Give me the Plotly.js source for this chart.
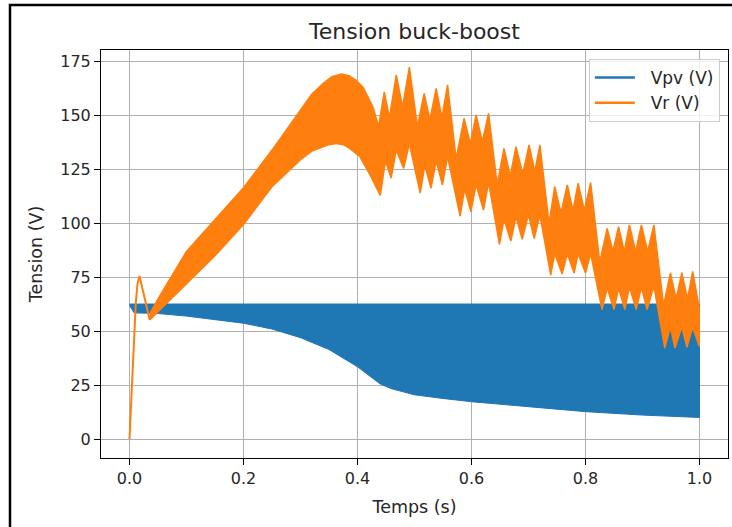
<!DOCTYPE html>
<html>
<head>
<meta charset="utf-8">
<script src="https://cdn.plot.ly/plotly-3.0.1.min.js"></script>
<style>
  html, body { margin: 0; padding: 0; background: #ffffff; }
  #chart { width: 732px; height: 527px; }
</style>
</head>
<body>
<div id="chart"></div>
<script>
// Vpv (V): switching band, constant top and sagging bottom envelope
const vpvTime  = [0, 0.008, 0.05, 0.1, 0.15, 0.2, 0.25, 0.3, 0.35, 0.4, 0.44, 0.46, 0.5, 0.55, 0.6, 0.7, 0.8, 0.9, 1.0];
const vpvUpper = [62.6, 62.6, 62.6, 62.6, 62.6, 62.6, 62.6, 62.6, 62.6, 62.6, 62.6, 62.6, 62.6, 62.6, 62.6, 62.6, 62.6, 62.6, 62.6];
const vpvLower = [62, 58.5, 58.2, 57, 55.5, 53.7, 51, 47, 41.5, 33.5, 25.5, 23.3, 20.5, 18.8, 17.3, 15, 12.7, 11.1, 10];

// Vr (V): start-up transient
const vrStartTime  = [0, 0.004, 0.008, 0.011, 0.014, 0.0175, 0.0355];
const vrStartValue = [0, 25, 48, 63, 72, 75.6, 55.2];

// Vr (V): upper envelope of the ripple band
const vrTopTime = [0.0355, 0.05, 0.1, 0.15, 0.2, 0.25, 0.3, 0.32, 0.34, 0.355, 0.372, 0.385, 0.397, 0.41, 0.427, 0.437, 0.447, 0.456, 0.468, 0.479, 0.491,
  0.505, 0.517, 0.527, 0.538, 0.548, 0.558, 0.573, 0.587, 0.598, 0.608, 0.619, 0.630,
  0.645, 0.657, 0.668, 0.678, 0.690, 0.701, 0.711, 0.720, 0.736, 0.746, 0.757, 0.768, 0.778, 0.787, 0.798, 0.809,
  0.825, 0.838, 0.848, 0.858, 0.868, 0.877, 0.888, 0.898, 0.909, 0.920, 0.937, 0.949, 0.959, 0.969, 0.979, 0.988, 0.9995];
const vrTopValue = [58, 65, 87, 102, 116.5, 134, 153, 160, 165, 168, 169.3, 168.5, 166.5, 163, 154, 145, 161, 149, 168.8, 154, 172.5,
  145, 160.3, 148, 162.6, 149, 164.2, 130, 148.7, 137, 150.3, 138, 151,
  118, 134.8, 122, 135.6, 123, 136.4, 124, 136.4, 100, 117, 105, 117.8, 106, 118.6, 106, 118.9,
  82, 97.7, 87, 98.5, 87, 99.3, 87, 99.3, 87, 99.3, 62, 77, 65, 77.2, 65, 77.7, 61];

// Vr (V): lower envelope of the ripple band
const vrBottomTime = [0.0355, 0.05, 0.1, 0.15, 0.2, 0.25, 0.3, 0.32, 0.34, 0.35, 0.363, 0.375, 0.385, 0.395, 0.404, 0.421, 0.44, 0.449, 0.459, 0.468, 0.481, 0.491,
  0.510, 0.518, 0.529, 0.538, 0.549, 0.558, 0.580, 0.588, 0.599, 0.608, 0.621, 0.630,
  0.649, 0.657, 0.669, 0.678, 0.689, 0.700, 0.710, 0.720, 0.739, 0.746, 0.759, 0.768, 0.780, 0.787, 0.800, 0.809,
  0.829, 0.838, 0.850, 0.858, 0.869, 0.877, 0.889, 0.898, 0.908, 0.920, 0.939, 0.949, 0.957, 0.969, 0.978, 0.988, 0.9995];
const vrBottomValue = [55.2, 59, 72, 85, 99.5, 117, 129.5, 133.5, 135.6, 136.5, 137, 136.5, 135, 133, 131, 123, 113, 129, 121, 134, 125.5, 137,
  114, 127, 116.3, 129, 117.8, 131, 103.4, 116, 105.4, 118, 106.2, 119,
  90.3, 102, 91.8, 103, 92.6, 104, 93, 104, 76, 86, 76.5, 86, 77, 86, 77, 86,
  60, 70, 60, 70, 60, 70.5, 60, 70.5, 60, 71, 42.2, 52, 42.2, 52, 42.5, 52, 43];

const xTicks = [0.0, 0.2, 0.4, 0.6, 0.8, 1.0];
const xTickText = ['0.0', '0.2', '0.4', '0.6', '0.8', '1.0'];
const yTicks = [0, 25, 50, 75, 100, 125, 150, 175];

const BLUE = '#1f77b4';
const ORANGE = '#ff7f0e';

// closed outline: top edge forward, bottom edge backward
function band(tTop, vTop, tBot, vBot) {
  return {
    x: tTop.concat(tBot.slice().reverse()),
    y: vTop.concat(vBot.slice().reverse())
  };
}

const vpvBand = band(vpvTime, vpvUpper, vpvTime, vpvLower);
const vrBand = band(vrTopTime, vrTopValue, vrBottomTime, vrBottomValue);

const traces = [
  {
    x: vpvBand.x, y: vpvBand.y, type: 'scatter', mode: 'lines',
    fill: 'toself', fillcolor: BLUE, line: {color: BLUE, width: 1},
    showlegend: false, hoverinfo: 'skip'
  },
  {
    x: vrStartTime, y: vrStartValue, type: 'scatter', mode: 'lines',
    line: {color: ORANGE, width: 2}, showlegend: false, hoverinfo: 'skip'
  },
  {
    x: vrBand.x, y: vrBand.y, type: 'scatter', mode: 'lines',
    fill: 'toself', fillcolor: ORANGE, line: {color: ORANGE, width: 1.5},
    showlegend: false, hoverinfo: 'skip'
  },
  {
    x: [null], y: [null], type: 'scatter', mode: 'lines', name: '\u00a0\u00a0Vpv (V)',
    line: {color: BLUE, width: 2.5}
  },
  {
    x: [null], y: [null], type: 'scatter', mode: 'lines', name: '\u00a0\u00a0Vr (V)',
    line: {color: ORANGE, width: 2.5}
  }
];

const FONT = 'DejaVu Sans, sans-serif';
const TXT = '#262626';

const axisCommon = {
  showline: true, mirror: true, linecolor: '#000000', linewidth: 1,
  showgrid: true, gridcolor: '#b0b0b0', gridwidth: 1,
  zeroline: false,
  ticks: 'outside', ticklen: 6, tickwidth: 1, tickcolor: '#000000',
  tickfont: {family: FONT, size: 16, color: TXT}
};

const layout = {
  width: 732, height: 527,
  margin: {l: 101, r: 4, t: 50, b: 69},
  paper_bgcolor: '#ffffff', plot_bgcolor: '#ffffff',
  title: {
    text: 'Tension buck-boost',
    font: {family: FONT, size: 22, color: TXT},
    x: 0.5, xref: 'paper', xanchor: 'center',
    y: 1 - 31 / 527, yanchor: 'middle'
  },
  xaxis: Object.assign({}, axisCommon, {
    range: [-0.05, 1.05], tickvals: xTicks, ticktext: xTickText,
    title: {text: 'Temps (s)', font: {family: FONT, size: 17.5, color: TXT}, standoff: 13}
  }),
  yaxis: Object.assign({}, axisCommon, {
    range: [-8.8, 180.4], tickvals: yTicks,
    title: {text: 'Tension (V)', font: {family: FONT, size: 17.5, color: TXT}, standoff: 13}
  }),
  legend: {
    x: 0.987, xanchor: 'right', y: 0.978, yanchor: 'top',
    bgcolor: 'rgba(255,255,255,0.8)', bordercolor: '#cccccc', borderwidth: 1,
    font: {family: FONT, size: 17, color: TXT},
    itemwidth: 40, tracegroupgap: 0
  },
  shapes: [{
    type: 'rect', xref: 'paper', yref: 'paper', layer: 'above',
    x0: -91 / 627, x1: 640 / 627, y0: -80 / 408, y1: 453 / 408,
    line: {color: '#000000', width: 2.5}
  }],
  showlegend: true
};

Plotly.newPlot('chart', traces, layout, {displayModeBar: false, staticPlot: true});
</script>
</body>
</html>
